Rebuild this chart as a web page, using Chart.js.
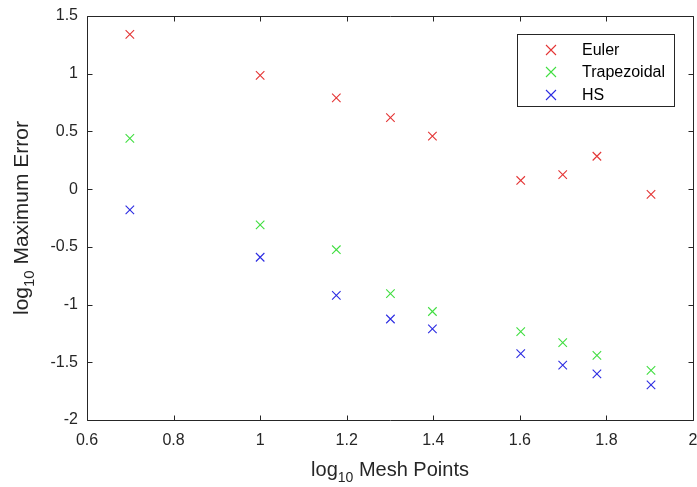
<!DOCTYPE html>
<html>
<head>
<meta charset="utf-8">
<script src="https://cdn.jsdelivr.net/npm/chart.js@4/dist/chart.umd.min.js"></script>
<style>
  html, body { margin: 0; padding: 0; background: #ffffff; }
  #wrap { width: 697px; height: 487px; }
</style>
</head>
<body>
<div id="wrap"><canvas id="c" width="697" height="487"></canvas></div>
<script>
// log10 of mesh points (x)
const meshX = [0.699, 1.0, 1.176, 1.301, 1.398, 1.602, 1.699, 1.778, 1.903];
const eulerY = [1.34, 0.985, 0.79, 0.62, 0.46, 0.075, 0.125, 0.285, -0.045];
const trapezoidalY = [0.44, -0.31, -0.525, -0.905, -1.06, -1.235, -1.33, -1.44, -1.57];
const hsY = [-0.18, -0.59, -0.92, -1.125, -1.21, -1.425, -1.525, -1.6, -1.695];
const seriesNames = ['Euler', 'Trapezoidal', 'HS'];
const xTicks = [0.6, 0.8, 1.0, 1.2, 1.4, 1.6, 1.8, 2.0];
const yTicks = [-2, -1.5, -1, -0.5, 0, 0.5, 1, 1.5];
const xTitle = ['log', '10', ' Mesh Points'];
const yTitle = ['log', '10', ' Maximum Error'];

const FONT = '"Liberation Sans", Arial, Helvetica, sans-serif';
const AXIS_COLOR = '#262626';
const colors = ['rgb(228,52,52)', 'rgb(64,222,64)', 'rgb(44,44,226)'];

function pts(xs, ys) { return xs.map((x, i) => ({ x: x, y: ys[i] })); }

function drawSubTitle(ctx, parts, mainSize, subSize, subDrop) {
  ctx.font = mainSize + 'px ' + FONT;
  const w0 = ctx.measureText(parts[0]).width;
  const w2 = ctx.measureText(parts[2]).width;
  ctx.font = subSize + 'px ' + FONT;
  const w1 = ctx.measureText(parts[1]).width;
  const total = w0 + w1 + w2;
  let x = -total / 2;
  ctx.textBaseline = 'alphabetic';
  ctx.textAlign = 'left';
  ctx.font = mainSize + 'px ' + FONT;
  ctx.fillText(parts[0], x, 0); x += w0;
  ctx.font = subSize + 'px ' + FONT;
  ctx.fillText(parts[1], x, subDrop); x += w1;
  ctx.font = mainSize + 'px ' + FONT;
  ctx.fillText(parts[2], x, 0);
}

const matlabAxes = {
  id: 'matlabAxes',
  afterDatasetsDraw(chart) {
    const ctx = chart.ctx;
    const a = chart.chartArea;
    const xs = chart.scales.x, ys = chart.scales.y;
    ctx.save();
    ctx.strokeStyle = AXIS_COLOR;
    ctx.lineWidth = 1;
    const L = Math.round(a.left) + 0.5, R = Math.round(a.right) + 0.5;
    const T = Math.round(a.top) + 0.5, B = Math.round(a.bottom) + 0.5;
    ctx.beginPath();
    ctx.rect(L, T, R - L, B - T);
    const tl = 5;
    xs.ticks.forEach(t => {
      const px = Math.round(xs.getPixelForValue(t.value)) + 0.5;
      ctx.moveTo(px, B); ctx.lineTo(px, B - tl);
      ctx.moveTo(px, T); ctx.lineTo(px, T + tl);
    });
    ys.ticks.forEach(t => {
      const py = Math.round(ys.getPixelForValue(t.value)) + 0.5;
      ctx.moveTo(L, py); ctx.lineTo(L + tl, py);
      ctx.moveTo(R, py); ctx.lineTo(R - tl, py);
    });
    ctx.stroke();

    // axis titles with subscript
    ctx.fillStyle = AXIS_COLOR;
    ctx.save();
    ctx.translate((a.left + a.right) / 2, 476);
    drawSubTitle(ctx, xTitle, 20, 14, 6);
    ctx.restore();
    ctx.save();
    ctx.translate(28, (a.top + a.bottom) / 2);
    ctx.rotate(-Math.PI / 2);
    drawSubTitle(ctx, yTitle, 21, 15, 6);
    ctx.restore();

    // legend box
    const lx = 517.5, ly = 34.5, lw = 157, lh = 72;
    ctx.fillStyle = '#ffffff';
    ctx.fillRect(lx, ly, lw, lh);
    ctx.strokeStyle = AXIS_COLOR;
    ctx.lineWidth = 1;
    ctx.strokeRect(lx, ly, lw, lh);
    const rowsY = [50, 72, 95];
    chart.data.datasets.forEach((ds, i) => {
      const cx = 551, cy = rowsY[i], r = 5;
      ctx.strokeStyle = ds.borderColor;
      ctx.lineWidth = 1.1;
      ctx.beginPath();
      ctx.moveTo(cx - r, cy - r); ctx.lineTo(cx + r, cy + r);
      ctx.moveTo(cx - r, cy + r); ctx.lineTo(cx + r, cy - r);
      ctx.stroke();
      ctx.fillStyle = '#000000';
      ctx.font = '16px ' + FONT;
      ctx.textAlign = 'left';
      ctx.textBaseline = 'middle';
      ctx.fillText(ds.label, 582, cy + 1);
    });
    ctx.restore();
  }
};

const datasets = [eulerY, trapezoidalY, hsY].map((ys, i) => ({
  label: seriesNames[i],
  data: pts(meshX, ys),
  showLine: false,
  pointStyle: 'crossRot',
  pointRadius: 6,
  pointHoverRadius: 6,
  borderColor: colors[i],
  backgroundColor: colors[i],
  borderWidth: 1.1
}));

function zeroPad(s) { s.paddingLeft = 0; s.paddingRight = 0; s.paddingTop = 0; s.paddingBottom = 0; }

new Chart(document.getElementById('c'), {
  type: 'scatter',
  data: { datasets: datasets },
  plugins: [matlabAxes],
  options: {
    responsive: false,
    animation: false,
    devicePixelRatio: 1,
    layout: { autoPadding: false, padding: { left: 0, right: 4, top: 16, bottom: 0 } },
    plugins: { legend: { display: false }, tooltip: { enabled: false } },
    scales: {
      x: {
        type: 'linear', min: 0.6, max: 2,
        afterBuildTicks(s) { s.ticks = xTicks.map(v => ({ value: v })); },
        afterFit(s) { s.height = 67; zeroPad(s); },
        grid: { display: false, drawTicks: false },
        border: { display: false },
        ticks: {
          color: AXIS_COLOR, padding: 11,
          font: { family: FONT, size: 16 },
          maxRotation: 0, autoSkip: false,
          callback: v => String(Number(v.toFixed(2)))
        }
      },
      y: {
        type: 'linear', min: -2, max: 1.5,
        afterBuildTicks(s) { s.ticks = yTicks.map(v => ({ value: v })); },
        afterFit(s) { s.width = 87; zeroPad(s); },
        grid: { display: false, drawTicks: false },
        border: { display: false },
        ticks: {
          color: AXIS_COLOR, padding: 9,
          font: { family: FONT, size: 16 },
          autoSkip: false,
          callback: v => String(Number(v.toFixed(2)))
        }
      }
    }
  }
});
</script>
</body>
</html>
